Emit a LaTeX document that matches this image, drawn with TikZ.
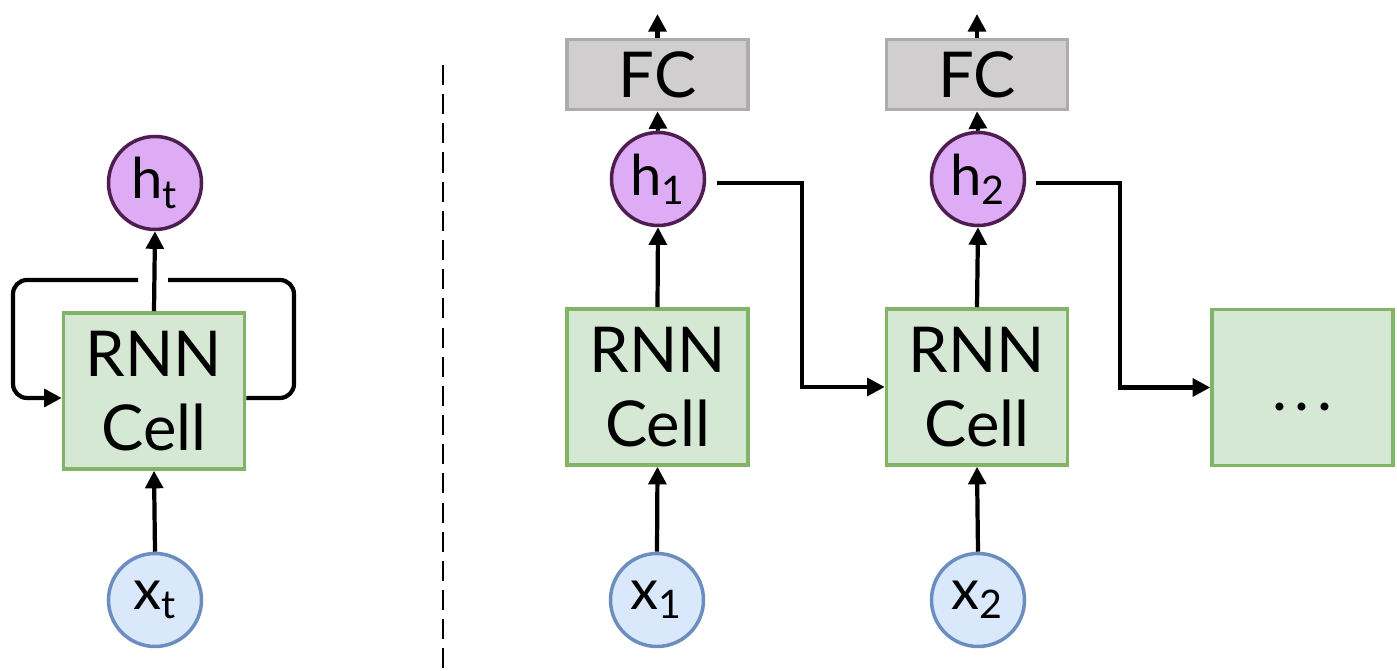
\documentclass[tikz,border=0pt]{standalone}
\usepackage{fontspec}
\setmainfont{Lato}
\usepackage{xcolor}
\usetikzlibrary{arrows.meta, positioning}
\definecolor{clrCell}{HTML}{D5E8D4}
\definecolor{clrCellLine}{HTML}{82B366}
\definecolor{clrHid}{HTML}{DDACF4}
\definecolor{clrHidLine}{HTML}{4F1E50}
\definecolor{clrIn}{HTML}{DAE8FC}
\definecolor{clrInLine}{HTML}{6C8EBF}
\definecolor{clrFc}{HTML}{D0CECE}
\definecolor{clrFcLine}{HTML}{AEABAB}

\begin{document}
\begin{tikzpicture}[
    cell/.style={rectangle, draw=clrCellLine, fill=clrCell, minimum width=1.81cm, minimum height=1.56cm, align=center, inner sep=0pt, font=\fontsize{18}{21}\selectfont, line width=1pt},
    fc/.style={rectangle, draw=clrFcLine, fill=clrFc, minimum width=1.81cm, minimum height=0.70cm, inner sep=0pt, font=\fontsize{18}{21}\selectfont, line width=1pt},
    hid/.style={circle, draw=clrHidLine, fill=clrHid, minimum size=0.93cm, inner sep=0pt, font=\fontsize{16}{18}\selectfont, line width=1pt},
    inp/.style={circle, draw=clrInLine, fill=clrIn, minimum size=0.93cm, inner sep=0pt, font=\fontsize{16}{18}\selectfont, line width=1pt},
    arrow/.style={-{Triangle[length=5pt, width=5pt]}, line width=1.2pt},
    link/.style={line width=1.2pt},
]
\useasboundingbox (0,0) rectangle (13.97,-6.71);

% folded cell
\node[hid] (ht) at (1.55,-1.83) {h\textsubscript{t}};
\node[cell] (cellL) at (1.54,-3.91) {RNN\\Cell};
\node[inp] (xt) at (1.55,-6.00) {x\textsubscript{t}};
\draw[arrow] (cellL.north) -- (ht.south);
\draw[arrow] (xt.north) -- (cellL.south);

\coordinate (gapR) at (1.68,-2.80);
\coordinate (gapL) at (1.38,-2.80);
\draw[link, rounded corners=4pt] ([yshift=-0.07cm]cellL.east) -- (2.94,-3.98) -- (2.94,-2.80) -- (gapR);
\draw[arrow, rounded corners=4pt] (gapL) -- (0.13,-2.80) -- (0.13,-3.98) -- ([yshift=-0.07cm]cellL.west);

\coordinate (sepTop) at (4.43,-0.65);
\coordinate (sepBot) at (4.43,-6.71);
\draw[line width=0.85pt, dash pattern=on 5.7pt off 2.6pt] (sepTop) -- (sepBot);

% unrolled cells
\node[fc] (fc1) at (6.575,-0.745) {FC};
\node[hid] (h1) at (6.58,-1.79) {h\textsubscript{1}};
\node[cell] (cell1) at (6.575,-3.87) {RNN\\Cell};
\node[inp] (x1) at (6.57,-6.00) {x\textsubscript{1}};

\node[fc] (fc2) at (9.77,-0.745) {FC};
\node[hid] (h2) at (9.78,-1.79) {h\textsubscript{2}};
\node[cell] (cell2) at (9.77,-3.87) {RNN\\Cell};
\node[inp] (x2) at (9.78,-6.00) {x\textsubscript{2}};

\node[cell] (cell3) at (13.025,-3.875) {\vphantom{Cell}.\hspace{0.12em}.\hspace{0.12em}.};

\coordinate (out1) at (6.575,-0.14);
\coordinate (out2) at (9.77,-0.14);
\draw[arrow] (fc1.north) -- (out1);
\draw[arrow] (fc2.north) -- (out2);
\draw[arrow] (h1.north) -- (fc1.south);
\draw[arrow] (h2.north) -- (fc2.south);
\draw[arrow] (cell1.north) -- (h1.south);
\draw[arrow] (cell2.north) -- (h2.south);
\draw[arrow] (x1.north) -- (cell1.south);
\draw[arrow] (x2.north) -- (cell2.south);

\draw[arrow] ([xshift=0.11cm, yshift=-0.04cm]h1.east) -- ++(0.85,0) |- (cell2.west);
\draw[arrow] ([xshift=0.10cm, yshift=-0.04cm]h2.east) -- ++(0.84,0) |- (cell3.west);

\end{tikzpicture}
\end{document}
